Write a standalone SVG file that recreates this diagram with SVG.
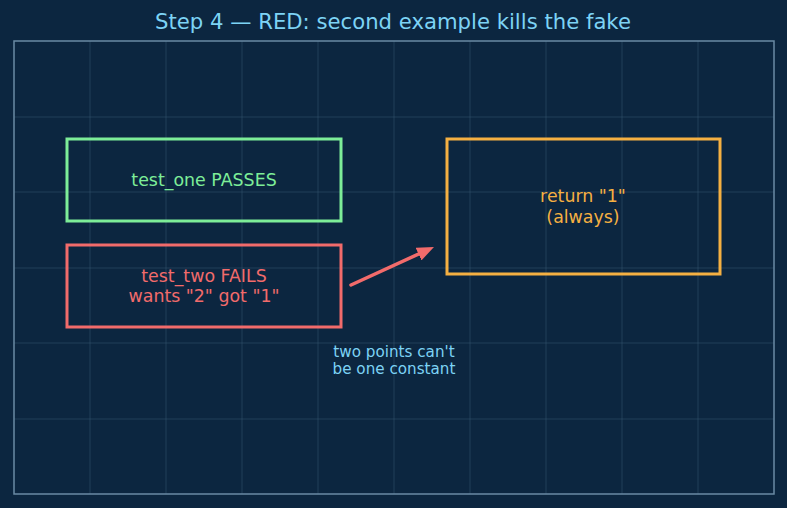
<svg xmlns="http://www.w3.org/2000/svg" width="787" height="508" viewBox="0 0 787 508">
<style>
text{font-family:"DejaVu Sans","Liberation Sans",sans-serif;text-anchor:middle}
.grid line{stroke:#3a5a74;stroke-width:0.8;opacity:0.6}
.box{fill:none;stroke-width:3}
.lbl{font-size:17.4px}
</style>
<defs>
<marker id="ah" markerWidth="17" markerHeight="14" refX="9" refY="7" orient="auto" markerUnits="userSpaceOnUse" viewBox="0 0 17 14">
<path d="M0,0 L17,7 L0,14 z" fill="#f26b6b"/>
</marker>
</defs>
<rect width="787" height="508" fill="#0c2640"/>
<text x="393" y="29" font-size="21.2" fill="#7dd3f5">Step 4 — RED: second example kills the fake</text>
<g class="grid">
<line x1="90" y1="41" x2="90" y2="494"/><line x1="166" y1="41" x2="166" y2="494"/><line x1="242" y1="41" x2="242" y2="494"/><line x1="318" y1="41" x2="318" y2="494"/><line x1="394" y1="41" x2="394" y2="494"/><line x1="470" y1="41" x2="470" y2="494"/><line x1="546" y1="41" x2="546" y2="494"/><line x1="622" y1="41" x2="622" y2="494"/><line x1="698" y1="41" x2="698" y2="494"/>
<line x1="14" y1="117" x2="774" y2="117"/><line x1="14" y1="192" x2="774" y2="192"/><line x1="14" y1="268" x2="774" y2="268"/><line x1="14" y1="343" x2="774" y2="343"/><line x1="14" y1="419" x2="774" y2="419"/>
</g>
<rect x="14" y="41" width="760" height="453" fill="none" stroke="#6a8aa4" stroke-width="1.5"/>
<g id="test_one">
<rect class="box" x="67" y="139" width="274" height="82" stroke="#7ded98"/>
<text class="lbl" x="204" y="186" fill="#7ded98">test_one PASSES</text>
</g>
<g id="test_two">
<rect class="box" x="67" y="245" width="274" height="82" stroke="#f26b6b"/>
<text class="lbl" x="204" y="282" fill="#f26b6b">test_two FAILS</text>
<text class="lbl" x="204" y="302" fill="#f26b6b">wants "2" got "1"</text>
</g>
<g id="impl">
<rect class="box" x="447" y="139" width="273" height="135" stroke="#f5b042"/>
<text class="lbl" x="583" y="202" fill="#f5b042">return "1"</text>
<text class="lbl" x="583" y="223" fill="#f5b042">(always)</text>
</g>
<g id="connectors">
<line x1="351" y1="285" x2="426.7" y2="250.3" stroke="#f26b6b" stroke-width="3.5" stroke-linecap="round" marker-end="url(#ah)"/>
</g>
<g id="note">
<text x="394" y="357" font-size="15.2" fill="#7dd3f5">two points can't</text>
<text x="394" y="374" font-size="15.2" fill="#7dd3f5">be one constant</text>
</g>
</svg>
